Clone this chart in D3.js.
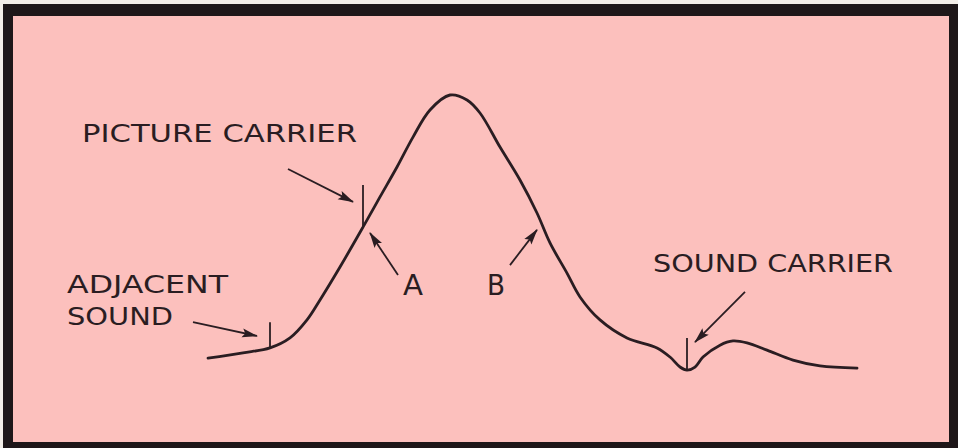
<!DOCTYPE html>
<html>
<head>
<meta charset="utf-8">
<script src="https://cdn.jsdelivr.net/npm/d3@7"></script>
<style>
  html, body { margin: 0; padding: 0; background: #f3eee8; }
  svg { display: block; }
</style>
</head>
<body>
<div id="chart"></div>
<script>
const width = 958
const height = 448

// response curve: x in frequency units from the left end, response in % of peak
const curveX = [0, 35, 62, 82, 99, 112, 132, 155, 172, 189, 205, 222, 242, 259, 272, 292,
  312, 329, 342, 359, 372, 392, 419, 449, 462, 472, 479, 487, 495, 512, 525, 539, 559, 585, 612, 649]
const curveY = [5, 6.9, 8.7, 12.3, 18.8, 26, 37.9, 52.3, 63.2, 74, 84.8, 94.6, 100, 98.2, 93.5, 81.2,
  69.3, 57.4, 46.6, 35.7, 27.1, 18.8, 12.3, 8.7, 5.4, 1.8, 0.7, 1.8, 5.4, 9.7, 11.2, 10.5, 7.9, 4.3, 2.2, 1.4]

// carrier markers: position and top of the tick
const markerNames = ['adjacent sound', 'picture carrier', 'sound carrier']
const markerX = [62, 155, 479]
const markerTop = [18, 67.5, 12.3]

// label texts and anchors (same units)
const labels = ['PICTURE CARRIER', 'ADJACENT', 'SOUND', 'A', 'B', 'SOUND CARRIER']
const labelX = [-126, -141, -141, 195, 279, 445]
const labelY = [83, 28.5, 17, 27.8, 27.8, 36.1]
const labelLength = [275, 161, 106, 20, 18, 240]
const labelSize = [25, 25, 25, 28, 29, 25]

// pointer arrows: from -> to
const arrowX1 = [80, -15, 190, 302, 537]
const arrowY1 = [73.3, 18, 35, 38.6, 28.9]
const arrowX2 = [145, 49, 162, 329, 487]
const arrowY2 = [61.4, 13, 50.2, 51.3, 10.8]

const x = d3.scaleLinear().domain([0, 650]).range([208, 858])
const y = d3.scaleLinear().domain([0, 100]).range([372, 95])

const ink = '#2a1d22'

const svg = d3.select('#chart')
  .append('svg')
  .attr('width', width)
  .attr('height', height)

svg.append('defs')
  .append('marker')
  .attr('id', 'head')
  .attr('viewBox', '0 0 16 10')
  .attr('refX', 15)
  .attr('refY', 5)
  .attr('markerUnits', 'userSpaceOnUse')
  .attr('markerWidth', 16)
  .attr('markerHeight', 10)
  .attr('orient', 'auto')
  .append('path')
  .attr('d', 'M0,0.5 L16,5 L0,9.5 L3,5 Z')
  .attr('fill', ink)

// frame
svg.append('rect')
  .attr('x', 3).attr('y', 4)
  .attr('width', 955).attr('height', 444)
  .attr('fill', '#1e1719')

svg.append('rect')
  .attr('x', 13).attr('y', 16)
  .attr('width', 936).attr('height', 426)
  .attr('fill', '#fcc0bd')

const points = curveX.map((d, i) => [d, curveY[i]])

svg.append('path')
  .datum(points)
  .attr('d', d3.line().x(d => x(d[0])).y(d => y(d[1])).curve(d3.curveCatmullRom.alpha(0.5)))
  .attr('fill', 'none')
  .attr('stroke', ink)
  .attr('stroke-width', 2.8)
  .attr('stroke-linecap', 'round')

// curve value at marker positions
const interp = xv => {
  const i = d3.bisectRight(curveX, xv) - 1
  const t = (xv - curveX[i]) / (curveX[i + 1] - curveX[i])
  return curveY[i] + t * (curveY[i + 1] - curveY[i])
}

svg.selectAll('.marker')
  .data(markerNames)
  .join('line')
  .attr('class', 'marker')
  .attr('x1', (d, i) => x(markerX[i]))
  .attr('x2', (d, i) => x(markerX[i]))
  .attr('y1', (d, i) => y(markerTop[i]))
  .attr('y2', (d, i) => y(interp(markerX[i])))
  .attr('stroke', ink)
  .attr('stroke-width', 1.8)

svg.selectAll('.arrow')
  .data(arrowX1)
  .join('line')
  .attr('class', 'arrow')
  .attr('x1', (d, i) => x(arrowX1[i]))
  .attr('y1', (d, i) => y(arrowY1[i]))
  .attr('x2', (d, i) => x(arrowX2[i]))
  .attr('y2', (d, i) => y(arrowY2[i]))
  .attr('stroke', ink)
  .attr('stroke-width', 1.8)
  .attr('marker-end', 'url(#head)')

svg.selectAll('.label')
  .data(labels)
  .join('text')
  .attr('class', 'label')
  .attr('x', (d, i) => x(labelX[i]))
  .attr('y', (d, i) => y(labelY[i]))
  .attr('textLength', (d, i) => labelLength[i])
  .attr('lengthAdjust', 'spacingAndGlyphs')
  .attr('font-family', 'DejaVu Sans, sans-serif')
  .attr('font-size', (d, i) => labelSize[i])
  .attr('fill', ink)
  .text(d => d)
</script>
</body>
</html>
